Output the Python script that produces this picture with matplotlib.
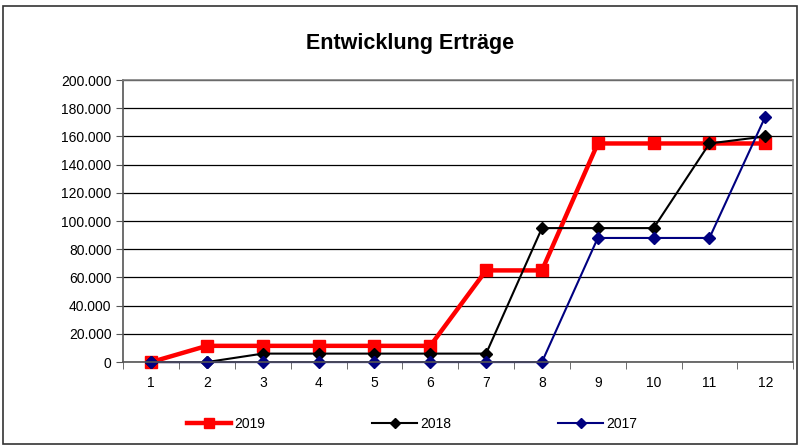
import numpy as np
import matplotlib
matplotlib.use("Agg")
import matplotlib.pyplot as plt
from matplotlib.ticker import FuncFormatter, FixedLocator
from matplotlib.patches import Rectangle

plt.rcParams['font.family'] = ['Liberation Sans', 'DejaVu Sans']

# Daten
monate = [1, 2, 3, 4, 5, 6, 7, 8, 9, 10, 11, 12]
ertrag_2019 = [0, 11500, 11500, 11500, 11500, 11500, 65000, 65000, 155000, 155000, 155000, 155000]
ertrag_2018 = [0, 0, 6000, 6000, 6000, 6000, 6000, 95000, 95000, 95000, 155000, 160000]
ertrag_2017 = [0, 0, 0, 0, 0, 0, 0, 0, 88000, 88000, 88000, 174000]

fig = plt.figure(figsize=(8, 4.47), dpi=100)
ax = fig.add_axes([0.154, 0.19, 0.8375, 0.631])

ax.plot(monate, ertrag_2019, color='#ff0000', lw=3.2, marker='s', ms=9, label='2019', clip_on=False)
ax.plot(monate, ertrag_2018, color='black', lw=1.5, marker='D', ms=6.5, label='2018', clip_on=False)
ax.plot(monate, ertrag_2017, color='#000080', lw=1.5, marker='D', ms=6.5, label='2017', clip_on=False)

ax.set_xlim(0.5, 12.5)
ax.set_ylim(0, 200000)
ax.set_yticks(np.arange(0, 200001, 20000))
ax.yaxis.set_major_formatter(FuncFormatter(lambda v, p: f"{int(v):,}".replace(",", ".")))
ax.set_xticks(monate)
ax.xaxis.set_minor_locator(FixedLocator(np.arange(0.5, 12.6, 1)))
ax.tick_params(axis='x', which='major', length=0, labelsize=10, pad=10)
ax.tick_params(axis='x', which='minor', length=5, color='#555555')
ax.tick_params(axis='y', length=5, color='#555555', labelsize=10)
ax.grid(axis='y', color='black', lw=0.9)
ax.set_axisbelow(True)
for s in ax.spines.values():
    s.set_color('#808080')
    s.set_linewidth(1.2)
ax.spines['left'].set_color('#555555')
ax.spines['bottom'].set_color('#555555')

fig.text(0.513, 0.903, 'Entwicklung Erträge', ha='center', va='center',
         fontsize=15.5, fontweight='bold')

fig.legend(loc='center', bbox_to_anchor=(0.515, 0.051), ncol=3, frameon=False,
           fontsize=10, handlelength=3.2, columnspacing=7.7, handletextpad=0.25,
           markerscale=0.8)

fig.patches.append(Rectangle((0.004, 0.006), 0.992, 0.981, transform=fig.transFigure,
                             fill=False, edgecolor='#333333', lw=1.2))

fig.savefig('out.png', dpi=100)
